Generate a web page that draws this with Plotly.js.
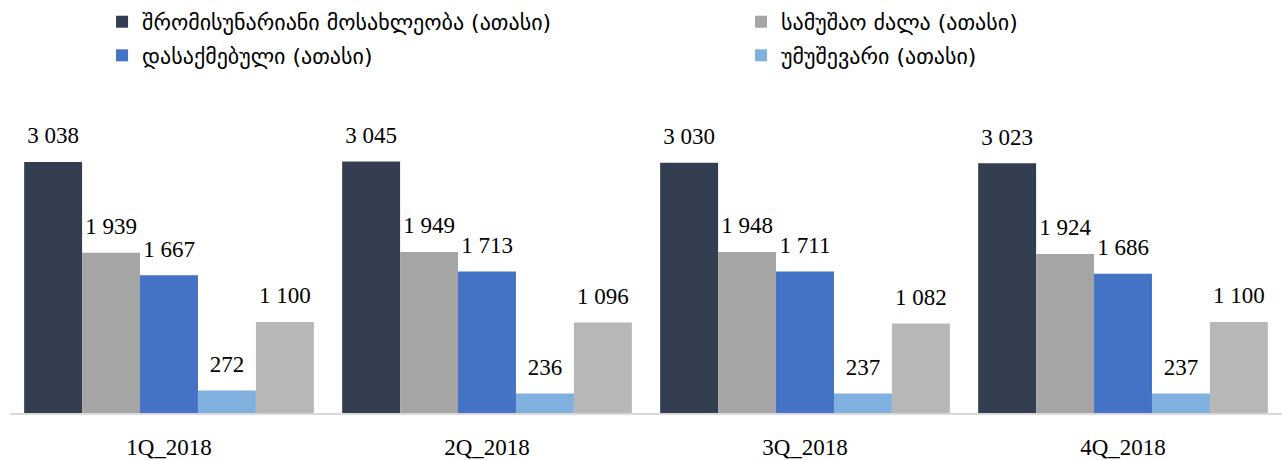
<!DOCTYPE html>
<html>
<head>
<meta charset="utf-8">
<script src="https://cdn.plot.ly/plotly-3.0.1.min.js"></script>
<style>
  html, body { margin: 0; padding: 0; background: #fff; }
  #plot { width: 1282px; height: 460px; }
</style>
</head>
<body>
<div id="plot"></div>
<script>
// quarters
var quarters = ["1Q_2018", "2Q_2018", "3Q_2018", "4Q_2018"];

// values, thousands
var laborAge   = [3038, 3045, 3030, 3023];
var workforce  = [1939, 1949, 1948, 1924];
var employed   = [1667, 1713, 1711, 1686];
var unemployed = [272, 236, 237, 237];
var outside    = [1100, 1096, 1082, 1100];

var names = [
  "შრომისუნარიანი მოსახლეობა (ათასი)",
  "სამუშაო ძალა (ათასი)",
  "დასაქმებული (ათასი)",
  "უმუშევარი (ათასი)",
  "სამუშაო ძალის გარეთ (ათასი)"
];
var colors = ["#333F50", "#A5A5A5", "#4472C4", "#7FB0DE", "#B7B7B7"];
var series = [laborAge, workforce, employed, unemployed, outside];
// left column of the legend gets series 0 and 2, right column 1 and 3
var legendOf = ["legend", "legend2", "legend", "legend2", "legend"];

var data = [];
series.forEach(function (vals, i) {
  data.push({
    type: "bar",
    name: names[i],
    x: quarters,
    y: vals,
    marker: { color: colors[i] },
    legend: legendOf[i],
    legendgroup: "g" + i,
    showlegend: i < 4,
    hoverinfo: "y"
  });
});
// value labels, lifted a bit above the bars like the excel original
series.forEach(function (vals, i) {
  data.push({
    type: "scatter",
    mode: "markers+text",
    x: quarters,
    y: vals,
    texttemplate: "%{y:,}",
    textposition: "top center",
    textfont: { family: "Liberation Serif, serif", size: 23, color: "#000" },
    marker: { size: 19, opacity: 0 },
    cliponaxis: false,
    showlegend: false,
    hoverinfo: "skip"
  });
});

var legendFont = { family: "DejaVu Sans, serif", size: 22, color: "#000" };

var layout = {
  width: 1282,
  height: 460,
  margin: { l: 10, r: 0, t: 80, b: 47, autoexpand: false },
  barmode: "group",
  bargap: 0.089,
  bargroupgap: 0,
  scattermode: "group",
  scattergap: 0.089,
  separators: ". ",
  font: { family: "Liberation Serif, DejaVu Serif, serif", size: 20, color: "#000" },
  showlegend: true,
  legend: {
    xref: "container", yref: "container",
    x: 0.0796, y: 0.998, xanchor: "left", yanchor: "top",
    traceorder: "grouped", tracegroupgap: 2,
    font: legendFont
  },
  legend2: {
    xref: "container", yref: "container",
    x: 0.578, y: 0.998, xanchor: "left", yanchor: "top",
    traceorder: "grouped", tracegroupgap: 2,
    font: legendFont
  },
  xaxis: {
    showline: true,
    linecolor: "#D9D9D9",
    linewidth: 2,
    ticks: "",
    tickfont: { family: "Liberation Serif, serif", size: 23, color: "#000" },
    ticklabelstandoff: 12
  },
  yaxis: {
    range: [0, 4030],
    showgrid: false,
    zeroline: false,
    showticklabels: false,
    ticks: ""
  },
  plot_bgcolor: "#fff",
  paper_bgcolor: "#fff"
};

Plotly.newPlot("plot", data, layout, { displayModeBar: false });
</script>
</body>
</html>
